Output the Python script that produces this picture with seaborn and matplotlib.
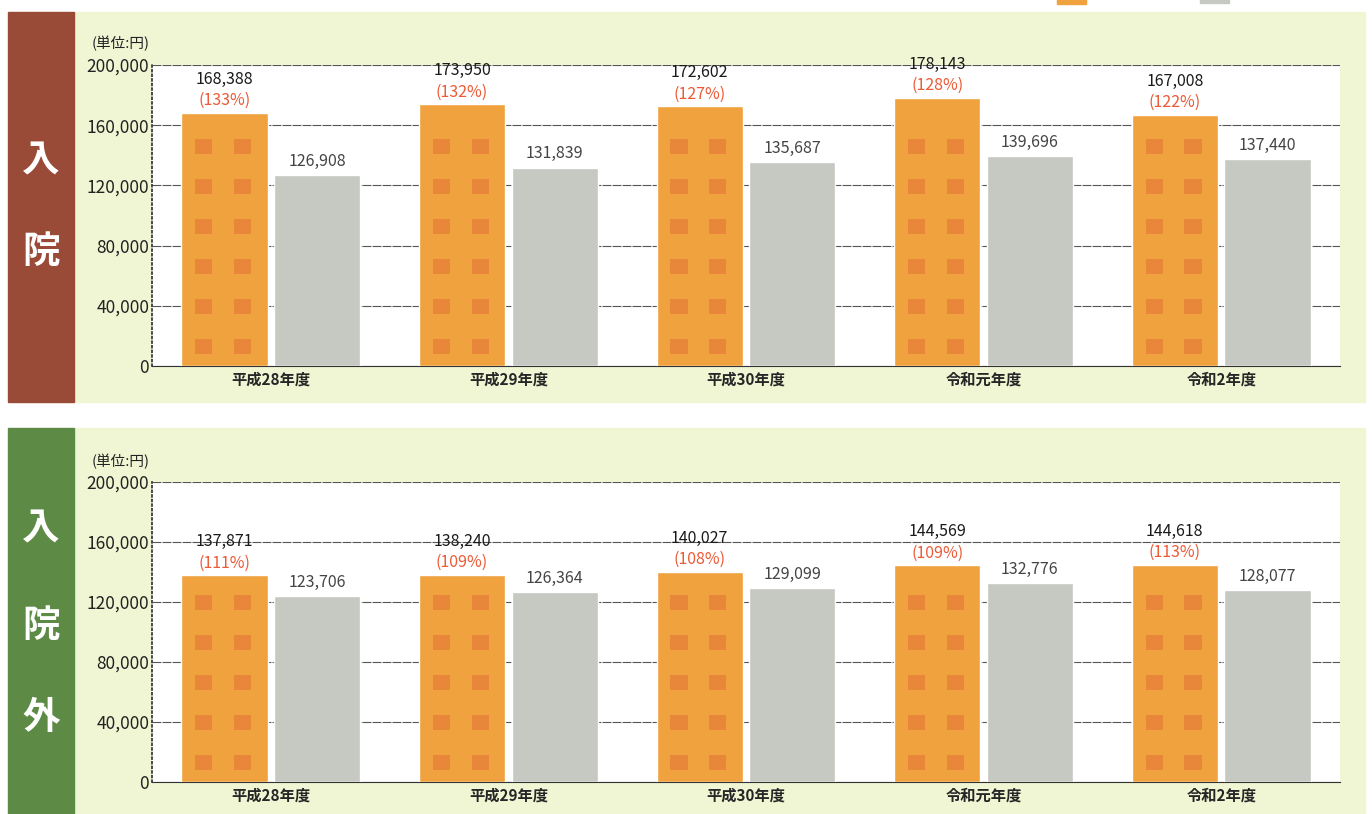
import pandas as pd
import seaborn as sns
import matplotlib.pyplot as plt
from matplotlib.patches import Rectangle
from matplotlib.ticker import FuncFormatter

# data
years = ['平成28年度', '平成29年度', '平成30年度', '令和元年度', '令和2年度']
inpatient_a = [168388, 173950, 172602, 178143, 167008]
inpatient_b = [126908, 131839, 135687, 139696, 137440]
inpatient_pct = [133, 132, 127, 128, 122]
outpatient_a = [137871, 138240, 140027, 144569, 144618]
outpatient_b = [123706, 126364, 129099, 132776, 128077]
outpatient_pct = [111, 109, 108, 109, 113]
series = ['A', 'B']

sns.set_theme(style='white')
plt.rcParams['font.family'] = ['Noto Sans CJK JP', 'DejaVu Sans']

ORANGE = '#f0a23f'
DOT = '#e8873a'
GRAY = '#c6c8c2'
PANEL = '#f0f5d3'
RED = '#ec5a36'

fig = plt.figure(figsize=(13.72, 8.14), dpi=100)
W, H = 1372, 814


def fx(px):
    return px / W


def fy(py):
    return 1 - py / H


def panel(top, bottom, band_color, chars, char_ys):
    fig.patches.append(Rectangle((fx(75), fy(bottom)), fx(1290), (bottom - top) / H,
                                 transform=fig.transFigure, color=PANEL, zorder=0))
    fig.patches.append(Rectangle((fx(8), fy(bottom)), fx(66), (bottom - top) / H,
                                 transform=fig.transFigure, color=band_color, zorder=0))
    for c, y in zip(chars, char_ys):
        fig.text(fx(41), fy(y), c, color='white', fontsize=27, fontweight='bold',
                 ha='center', va='center')


panel(12, 402, '#994b38', ['入', '院'], [160, 252])
panel(428, 814, '#5d8a45', ['入', '院', '外'], [528, 625, 718])

# cropped legend keys along the top edge
fig.patches.append(Rectangle((fx(1057), fy(4)), fx(29), 5 / H, transform=fig.transFigure,
                             color=ORANGE, zorder=0))
fig.patches.append(Rectangle((fx(1200), fy(3)), fx(29), 4 / H, transform=fig.transFigure,
                             color=GRAY, zorder=0))


def draw(ax, a_vals, b_vals, pcts):
    df = pd.DataFrame({
        'year': years * 2,
        'series': [series[0]] * len(years) + [series[1]] * len(years),
        'value': a_vals + b_vals,
    })
    sns.barplot(data=df, x='year', y='value', hue='series', order=years,
                hue_order=series, palette=[ORANGE, GRAY], saturation=1,
                width=0.78, gap=0.07, legend=False, ax=ax, zorder=3)
    ax.set_zorder(5)
    ax.set_ylim(0, 200000)
    ax.set_yticks(range(0, 200001, 40000))
    ax.yaxis.set_major_formatter(FuncFormatter(lambda v, p: f'{int(v):,}'))
    ax.tick_params(axis='y', labelsize=12.5, pad=2, colors='#222222', length=0)
    ax.tick_params(axis='x', labelsize=11, pad=4, length=0)
    for lab in ax.get_xticklabels():
        lab.set_fontweight('bold')
    ax.set_xlabel('')
    ax.set_ylabel('')
    ax.grid(axis='y', color='#555555', linewidth=0.8, linestyle=(0, (8, 1)), zorder=1)
    for s in ['top', 'right']:
        ax.spines[s].set_visible(False)
    ax.spines['left'].set_linestyle(':')
    ax.spines['left'].set_color('#333333')
    ax.spines['bottom'].set_color('#333333')
    ax.spines['bottom'].set_linewidth(0.8)
    ax.set_facecolor('white')

    # data units per pixel on this axes
    upp = 200000 / (ax.get_position().height * H)
    bars = ax.patches
    n = len(years)
    for i in range(n):
        ob = bars[i]
        gb = bars[n + i]
        x0, w, h = ob.get_x(), ob.get_width(), ob.get_height()
        # square pattern on the orange bar
        sq_w = w * 0.2
        sq_h = 15 * upp
        yy = 20 * upp
        while yy + sq_h < h:
            for cx in (0.26, 0.71):
                ax.add_patch(Rectangle((x0 + w * cx - sq_w / 2, yy - sq_h / 2), sq_w, sq_h,
                                       color=DOT, zorder=4, linewidth=0))
            yy += 40 * upp
        ax.text(x0 + w / 2, h + 16500, f'{a_vals[i]:,}', ha='center', va='bottom',
                fontsize=11.5, color='#1a1a1a')
        ax.text(x0 + w / 2, h + 2500, f'({pcts[i]}%)', ha='center', va='bottom',
                fontsize=11.5, color=RED)
        gx, gw, gh = gb.get_x(), gb.get_width(), gb.get_height()
        ax.text(gx + gw / 2, gh + 3500, f'{b_vals[i]:,}', ha='center', va='bottom',
                fontsize=11.5, color='#444444')


ax1 = fig.add_axes([fx(152), fy(366), fx(1188), 301 / H])
draw(ax1, inpatient_a, inpatient_b, inpatient_pct)
fig.text(fx(92), fy(44), '(単位:円)', fontsize=10.5, ha='left', va='center', color='#222222')

ax2 = fig.add_axes([fx(152), fy(782), fx(1188), 300 / H])
draw(ax2, outpatient_a, outpatient_b, outpatient_pct)
fig.text(fx(92), fy(462), '(単位:円)', fontsize=10.5, ha='left', va='center', color='#222222')

fig.savefig('out.png', dpi=100, facecolor='white')
